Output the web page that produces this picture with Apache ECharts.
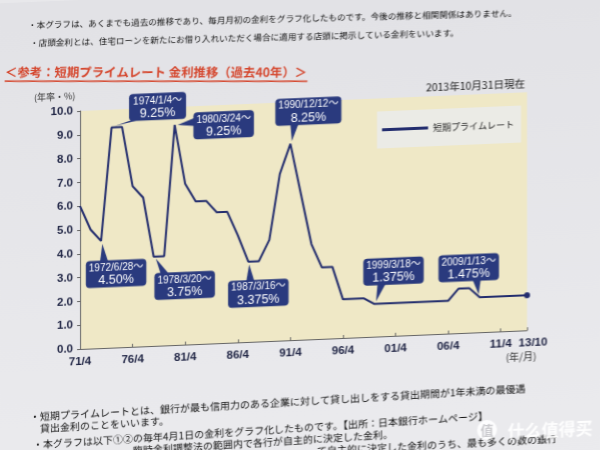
<!DOCTYPE html>
<html><head><meta charset="utf-8">
<script src="https://cdn.jsdelivr.net/npm/echarts/dist/echarts.min.js"></script>
<style>
html,body{margin:0;padding:0;width:600px;height:450px;overflow:hidden;background:#e8e8eb;}
#chart{width:600px;height:480px;transform:skewY(-2.4deg);transform-origin:80px 0;}
</style></head><body><div id="chart"></div>
<script>
// ---- data ----
const dates = ['1971/4','1972/4','1973/4','1974/4','1975/4','1976/4','1977/4','1978/4','1979/4','1980/4',
  '1981/4','1982/4','1983/4','1984/4','1985/4','1986/4','1987/4','1988/4','1989/4','1990/4',
  '1991/4','1992/4','1993/4','1994/4','1995/4','1996/4','1997/4','1998/4','1999/4','2000/4',
  '2001/4','2002/4','2003/4','2004/4','2005/4','2006/4','2007/4','2008/4','2009/4','2010/4',
  '2011/4','2012/4','2013/4','2013/10'];
const rates = [6.0,5.0,4.5,9.25,9.25,6.75,6.25,3.75,3.75,9.25,
  6.75,6.0,6.0,5.5,5.5,4.5,3.375,3.375,4.25,7.0,
  8.25,6.125,4.0,3.0,3.0,1.625,1.625,1.625,1.375,1.375,
  1.375,1.375,1.375,1.375,1.375,1.375,1.875,1.875,1.475,1.475,
  1.475,1.475,1.475,1.475];
const seriesName = '短期プライムレート';
const calloutAnchors = ['1974/4','1980/4','1991/4','1973/4','1978/4','1987/4','1999/4','2009/4'];
const calloutDates = ['1974/1/4～','1980/3/24～','1990/12/12～','1972/6/28～','1978/3/20～','1987/3/16～','1999/3/18～','2009/1/13～'];
const calloutRates = ['9.25%','9.25%','8.25%','4.50%','3.75%','3.375%','1.375%','1.475%'];
const yMin = 0, yMax = 10, yStep = 1;
const xStepMonths = 60;
const topNote1 = '・本グラフは、あくまでも過去の推移であり、毎月月初の金利をグラフ化したものです。今後の推移と相関関係はありません。';
const topNote2 = '・店頭金利とは、住宅ローンを新たにお借り入れいただく場合に適用する店頭に掲示している金利をいいます。';
const titleText = '＜参考：短期プライムレート 金利推移（過去40年）＞';
const unitText = '(年率・%)';
const asOfText = '2013年10月31日現在';
const xUnitText = '(年/月)';
const bottomNotes = [
  '・短期プライムレートとは、銀行が最も信用力のある企業に対して貸し出しをする貸出期間が1年未満の最優遇',
  '貸出金利のことをいいます。',
  '・本グラフは以下①②の毎年4月1日の金利をグラフ化したものです。【出所：日本銀行ホームページ】',
  '臨時金利調整法の範囲内で各行が自主的に決定した金利。',
  'て自主的に決定した金利のうち、最も多くの数の銀行'
];

// ---- layout / style (not data) ----
const calloutLayout = [
  {dx:46, dy:-19, side:'bottom', b:-22},
  {dx:49, dy:2, side:'left', b:-4},
  {dx:18, dy:-32, side:'bottom', b:-14},
  {dx:15, dy:33, side:'top', b:-12},
  {dx:31, dy:30, side:'top', b:-20},
  {dx:10, dy:32, side:'top', b:-8},
  {dx:19, dy:-32, side:'bottom', b:-12},
  {dx:-11, dy:-30, side:'bottom', b:8}
];
const JP = "'Noto Sans CJK JP', sans-serif";
const NUM = "'Liberation Sans', 'Noto Sans CJK JP', sans-serif";
const NAVY = '#2a3a7e', LINE = '#232d6e', RED = '#d5462d', TXT = '#1f2444';

function monthsOf(d){ const p = d.split('/').map(Number); return (p[0]-1971)*12 + (p[1]-4); }
function labelOf(v){ const t = 3 + v; const y = 1971 + Math.floor(t/12); const m = t%12 + 1; return String(y%100).padStart(2,'0') + '/' + m; }

const xs = dates.map(monthsOf);
const xMax = xs[xs.length-1];
const lineData = xs.map((x,i)=> i===xs.length-1 ? {value:[x,rates[i]], symbol:'circle', symbolSize:6} : [x,rates[i]]);
const calloutData = calloutAnchors.map((d,i)=>[monthsOf(d), rates[dates.indexOf(d)], i]);

const mctx = document.createElement('canvas').getContext('2d');
function tw(text, font){ mctx.font = font; return mctx.measureText(text).width; }

const chart = echarts.init(document.getElementById('chart'), null, {renderer:'canvas'});
chart.setOption({
  animation:false,
  backgroundColor:{type:'linear',x:0,y:0,x2:0,y2:1,colorStops:[{offset:0,color:'#e2e2e6'},{offset:1,color:'#ebebee'}]},
  grid:{left:80, right:73, top:111, height:238, show:true, backgroundColor:'#efe8c6', borderWidth:0, outerBoundsMode:'none'},
  legend:{data:[seriesName], left:377, top:124, icon:'rect', itemWidth:46, itemHeight:3, padding:[14,7,14,5],
    backgroundColor:'#ebebe6', textStyle:{fontFamily:JP, fontSize:9, color:'#222'}},
  xAxis:{type:'value', min:0, max:xMax, interval:xStepMonths,
    axisLine:{show:true, lineStyle:{color:'#666', width:1}},
    axisTick:{show:true, inside:true, length:3, lineStyle:{color:'#666'}},
    splitLine:{show:false},
    axisLabel:{formatter:v => v===xMax ? '{m|'+labelOf(v)+'}' : labelOf(v), margin:7, fontFamily:NUM, fontSize:11.5, fontWeight:'bold', color:TXT, showMaxLabel:true,
      rich:{m:{fontFamily:NUM, fontSize:11.5, fontWeight:'bold', color:TXT, padding:[0,0,0,12]}}}},
  yAxis:{type:'value', min:yMin, max:yMax, interval:yStep,
    axisLine:{show:true, lineStyle:{color:'#666', width:1}},
    axisTick:{show:true, length:3, lineStyle:{color:'#666'}},
    splitLine:{show:false},
    axisLabel:{formatter:v=>v.toFixed(1), margin:7, fontFamily:NUM, fontSize:11.5, fontWeight:'bold', color:TXT}},
  series:[
    {name:seriesName, type:'line', data:lineData, symbol:'none', lineStyle:{color:LINE, width:2}, itemStyle:{color:LINE}, z:3},
    {type:'custom', data:calloutData, z:10, clip:false, silent:true,
      renderItem:function(params, api){
        const i = api.value(2);
        const pt = api.coord([api.value(0), api.value(1)]);
        const L = calloutLayout[i];
        const f1 = '10px ' + NUM, f2 = '12.5px ' + NUM;
        const w = Math.max(57, tw(calloutDates[i], f1) + 6, tw(calloutRates[i], f2) + 8), h = 27;
        const cx = pt[0] + L.dx, cy = pt[1] + L.dy;
        let b1, b2;
        if (L.side === 'bottom') { b1 = [cx+L.b-4, cy+h/2-1]; b2 = [cx+L.b+4, cy+h/2-1]; }
        else if (L.side === 'top') { b1 = [cx+L.b-4, cy-h/2+1]; b2 = [cx+L.b+4, cy-h/2+1]; }
        else { b1 = [cx-w/2+1, cy+L.b-4]; b2 = [cx-w/2+1, cy+L.b+4]; }
        const vx = cx-pt[0], vy = cy-pt[1], len = Math.hypot(vx, vy);
        const tip = [pt[0]+vx/len*3, pt[1]+vy/len*3];
        return {type:'group', children:[
          {type:'polygon', shape:{points:[b1,b2,tip]}, style:{fill:NAVY}},
          {type:'rect', shape:{x:cx-w/2, y:cy-h/2, width:w, height:h, r:4}, style:{fill:NAVY}},
          {type:'text', x:cx, y:cy-6, style:{text:calloutDates[i], fill:'#fff', font:f1, align:'center', verticalAlign:'middle'}},
          {type:'text', x:cx, y:cy+6.5, style:{text:calloutRates[i], fill:'#fff', font:f2, align:'center', verticalAlign:'middle'}}
        ]};
      }}
  ],
  graphic:[
    {type:'text', x:28, y:23, rotation:-0.017, style:{text:topNote1, font:'8.6px '+JP, fill:'#111', verticalAlign:'middle'}},
    {type:'text', x:30, y:41, rotation:-0.018, style:{text:topNote2, font:'8.6px '+JP, fill:'#111', verticalAlign:'middle'}},
    {type:'group', x:5, y:69, rotation:-0.042, children:[
      {type:'text', x:0, y:0, style:{text:titleText, font:'bold 12.4px '+JP, fill:RED, verticalAlign:'middle'}},
      {type:'line', shape:{x1:0, y1:9, x2:303, y2:9}, style:{stroke:RED, lineWidth:1.5}}
    ]},
    {type:'text', x:34, y:96, style:{text:unitText, font:'9px '+JP, fill:'#333', verticalAlign:'middle'}},
    {type:'text', x:525, y:102, style:{text:asOfText, font:'10.5px '+JP, fill:'#1c1c1c', align:'right', verticalAlign:'middle'}},
    {type:'text', x:521, y:375, style:{text:xUnitText, font:'10px '+JP, fill:'#333', align:'center', verticalAlign:'middle'}},
    {type:'text', x:30, y:415, rotation:0.016, style:{text:bottomNotes[0], font:'10px '+JP, fill:'#111', verticalAlign:'middle'}},
    {type:'text', x:40, y:427, rotation:0.02, style:{text:bottomNotes[1], font:'10px '+JP, fill:'#111', verticalAlign:'middle'}},
    {type:'text', x:33, y:443, rotation:0.022, style:{text:bottomNotes[2], font:'10px '+JP, fill:'#111', verticalAlign:'middle'}},
    {type:'text', x:133, y:453, rotation:0.022, style:{text:bottomNotes[3], font:'10px '+JP, fill:'#111', verticalAlign:'middle'}},
    {type:'text', x:317, y:461, rotation:0.01, style:{text:bottomNotes[4], font:'10px '+JP, fill:'#111', verticalAlign:'middle'}},
    {type:'circle', shape:{cx:487, cy:447, r:10}, style:{fill:'rgba(255,255,255,0.9)'}},
    {type:'text', x:487, y:447, style:{text:'值', font:'bold 13px '+JP, fill:'#c8c8cc', align:'center', verticalAlign:'middle'}},
    {type:'text', x:550, y:450, style:{text:'什么值得买', font:'bold 17px "Noto Sans CJK SC", sans-serif', fill:'rgba(255,255,255,0.92)', align:'center', verticalAlign:'middle', shadowColor:'rgba(0,0,0,0.25)', shadowBlur:3}}
  ]
});
</script></body></html>
